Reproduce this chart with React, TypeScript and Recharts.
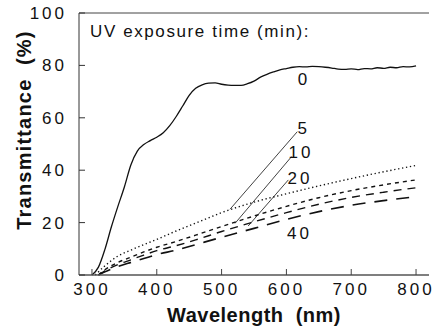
import { LineChart, Line, XAxis, YAxis, ReferenceLine, ReferenceDot } from "recharts";

// wavelength grid (nm) for the unexposed film
const WL0 = [300, 310, 320, 330, 340, 350, 360, 370, 380, 390, 400, 410, 420, 430, 440, 450, 460, 470, 480, 490, 500,
  510, 520, 530, 540, 550, 560, 570, 580, 590, 600, 610, 620, 630, 640, 650, 660, 670, 680, 690, 700,
  710, 720, 730, 740, 750, 760, 770, 780, 790, 800];
const T0 = [0, 3, 9.8, 18.4, 26.2, 33.6, 42, 47.3, 49.8, 51.3, 52.6, 54.3, 57, 60.5, 64.5, 68.6, 71.3, 72.6, 73.2, 73.3, 72.8,
  72.5, 72.4, 72.4, 73, 74, 75.5, 76.6, 77.5, 78.3, 78.8, 79.3, 79.5, 79.4, 79.6, 79.5, 79.3, 79, 78.6, 78.5, 78.7,
  78.4, 78.8, 78.7, 79.1, 78.9, 79.3, 79.1, 79.5, 79.4, 79.8];

// exposed films
const WL5 = [305, 320, 340, 360, 380, 400, 430, 460, 500, 550, 600, 650, 700, 750, 800];
const T5 = [0, 3.5, 7.2, 9.5, 11.6, 13.6, 16.8, 19.8, 23.8, 27.8, 31.0, 34.0, 36.8, 39.4, 41.8];
const WLX = [310, 320, 340, 360, 380, 400, 430, 460, 500, 550, 600, 650, 700, 750, 800];
const T10 = [0, 2.0, 4.8, 6.8, 8.8, 10.6, 12.8, 15.2, 18.5, 22.5, 26.2, 29.5, 32.2, 34.4, 36.3];
const T20 = [0, 1.6, 4.0, 5.8, 7.6, 9.3, 11.2, 13.4, 16.6, 20.3, 23.8, 27.0, 29.6, 31.6, 33.3];
const T40 = [0, 1.2, 3.2, 4.8, 6.3, 7.8, 9.5, 11.6, 14.4, 17.8, 21.2, 24.2, 26.6, 28.4, 29.9];

const X_TICKS = [300, 400, 500, 600, 700, 800];
const Y_TICKS = [0, 20, 40, 60, 80, 100];

const toRows = (wl: number[], t: number[]) => wl.map((w, i) => ({ wl: w, t: t[i] }));

const SERIES = [
  { name: "0", data: toRows(WL0, T0), dash: undefined, width: 1.3 },
  { name: "5", data: toRows(WL5, T5), dash: "1.3 2.7", width: 1.4 },
  { name: "10", data: toRows(WLX, T10), dash: "4 4", width: 1.4 },
  { name: "20", data: toRows(WLX, T20), dash: "8 6", width: 1.4 },
  { name: "40", data: toRows(WLX, T40), dash: "13 9", width: 1.6 },
];

// curve labels (wavelength, transmittance of label centre)
const CURVE_LABELS = [
  { text: "0", wl: 627, t: 74.7 },
  { text: "5", wl: 626.7, t: 56 },
  { text: "10", wl: 622.5, t: 46.9 },
  { text: "20", wl: 621, t: 37.1 },
  { text: "40", wl: 620.2, t: 16.2 },
];

// leader lines from labels to curves
const LEADERS = [
  [{ x: 616.8, y: 54.7 }, { x: 513, y: 25.1 }],
  [{ x: 608, y: 45.2 }, { x: 520.7, y: 19.7 }],
  [{ x: 603, y: 36.3 }, { x: 541, y: 18.7 }],
];

const FONT = "'Liberation Sans', Arial, Helvetica, sans-serif";
const INK = "#111";

function YTitle(props: any) {
  const { viewBox } = props;
  const x = viewBox.x + 30.5;
  const y = viewBox.y + viewBox.height / 2 - 14;
  return (
    <text x={x} y={y} transform={`rotate(-90 ${x} ${y})`} textAnchor="middle" fontFamily={FONT}
      fontWeight="bold" fontSize={20} letterSpacing={1.2} fill={INK} style={{ whiteSpace: "pre" }}>
      {"Transmittance  (%)"}
    </text>
  );
}

export default function App() {
  return (
    <div style={{ position: "absolute", left: 0, top: 0, background: "#fff" }}>
      <LineChart width={438} height={330} margin={{ top: 13, right: 9, bottom: 0, left: 0 }}>
        <XAxis type="number" dataKey="wl" domain={[280, 820]} ticks={X_TICKS} allowDataOverflow
          height={55} tickSize={-6} tickMargin={14} stroke="#444" axisLine={{ stroke: "#555", strokeWidth: 1.5 }}
          tick={{ fontSize: 17, fill: INK, fontFamily: FONT, letterSpacing: 3 }}
          label={{ value: "Wavelength\u00a0 (nm)", position: "insideBottom", offset: 8, fontSize: 20, fontWeight: "bold",
            fill: INK, fontFamily: FONT, letterSpacing: 0.5 }} />
        <YAxis type="number" domain={[0, 100]} ticks={Y_TICKS} width={79} tickSize={-6} tickMargin={18}
          stroke="#333" tick={{ fontSize: 17, fill: INK, fontFamily: FONT, letterSpacing: 3 }}
          label={<YTitle />} />
        <YAxis yAxisId="r" orientation="right" type="number" domain={[0, 100]} ticks={Y_TICKS} width={0}
          tickSize={-6} stroke="#333" tick={() => <g />} />
        <ReferenceLine y={100} stroke="#444" strokeWidth={1} />
        {SERIES.map((s) => (
          <Line key={s.name} data={s.data} dataKey="t" type="monotone" stroke={INK} strokeWidth={s.width}
            strokeDasharray={s.dash} dot={false} activeDot={false} isAnimationActive={false} />
        ))}
        {LEADERS.map((seg, i) => (
          <ReferenceLine key={i} segment={seg} stroke={INK} strokeWidth={0.8} />
        ))}
        <ReferenceDot x={297} y={93.05} r={0} fill="none" stroke="none"
          label={{ value: "UV exposure time  (min):", position: "right", offset: 0, fontSize: 17, fill: INK,
            fontFamily: FONT, letterSpacing: 1.6, style: { whiteSpace: "pre" } }} />
        {CURVE_LABELS.map((l) => (
          <ReferenceDot key={l.text} x={l.wl} y={l.t} r={0} fill="none" stroke="none"
            label={{ value: l.text, position: "center", fontSize: 17, fill: INK, fontFamily: FONT, letterSpacing: 3 }} />
        ))}
      </LineChart>
    </div>
  );
}
